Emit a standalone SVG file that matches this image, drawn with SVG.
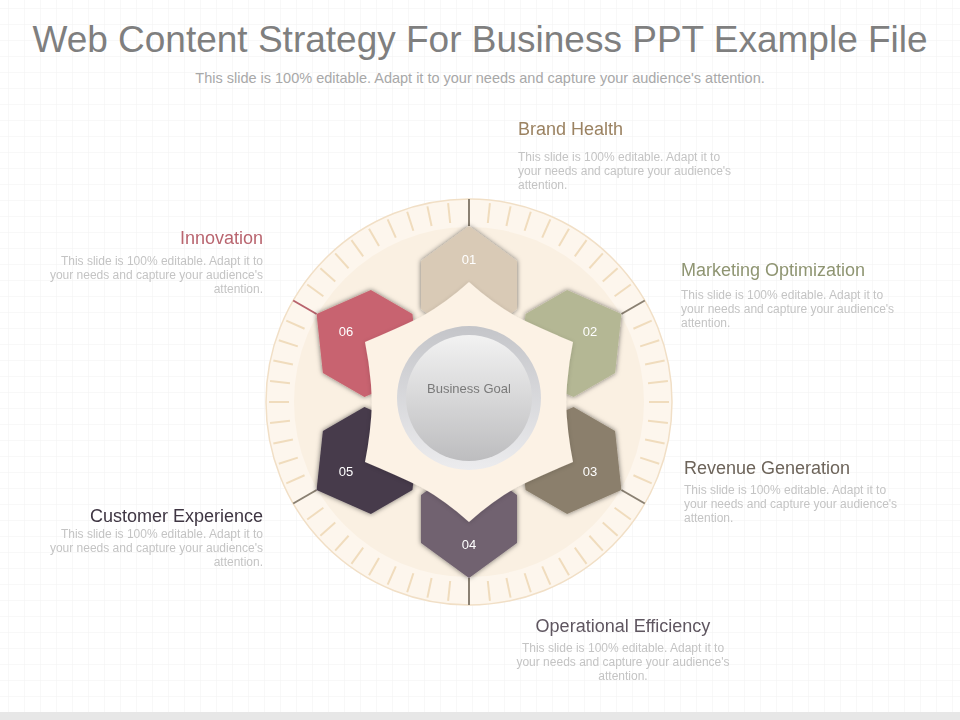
<svg xmlns="http://www.w3.org/2000/svg" width="960" height="720" viewBox="0 0 960 720">
<defs>
<pattern id="grid" width="16" height="16" patternUnits="userSpaceOnUse" x="8" y="8">
<path d="M16 0H0V16" fill="none" stroke="#f1f1f1" stroke-width="1"/>
</pattern>
<filter id="sh" x="-30%" y="-30%" width="160%" height="160%">
<feDropShadow dx="0" dy="0" stdDeviation="2.5" flood-color="#000" flood-opacity="0.55"/>
</filter>
<filter id="sh2" x="-30%" y="-30%" width="160%" height="160%">
<feDropShadow dx="0" dy="1" stdDeviation="2" flood-color="#000" flood-opacity="0.15"/>
</filter>
<linearGradient id="ringG" x1="0" y1="0" x2="0" y2="1">
<stop offset="0" stop-color="#c4c5c9"/>
<stop offset="1" stop-color="#ececee"/>
</linearGradient>
<linearGradient id="diskG" x1="0" y1="0" x2="0" y2="1">
<stop offset="0" stop-color="#f2f2f2"/>
<stop offset="1" stop-color="#bdbdbf"/>
</linearGradient>
<path id="petal" d="M469 226 L517 261 L517 309 L469 344 L421 309 L421 261 Z"/>
<line id="tick" x1="469" y1="202" x2="469" y2="222"/>
<line id="dtick" x1="469" y1="199" x2="469" y2="226"/>
</defs>
<style>
.title{font-family:"Liberation Sans",Arial,sans-serif;font-size:37px;fill:#7f7f7f}
.sub{font-family:"Liberation Sans",Arial,sans-serif;font-size:14.5px;fill:#a8a8a8}
.head{font-family:"Liberation Sans",Arial,sans-serif;font-size:18px}
.body{font-family:"Liberation Sans",Arial,sans-serif;font-size:12px;fill:#c4c4c4}
.num{font-family:"Liberation Sans",Arial,sans-serif;font-size:13px;fill:#ffffff;text-anchor:middle}
.lt{stroke:#f0dcbd;stroke-width:2}
.dk{stroke:#8a8072;stroke-width:2}
</style>
<rect width="960" height="720" fill="#ffffff"/>
<rect width="960" height="712" fill="url(#grid)"/>
<rect x="0" y="712" width="960" height="8" fill="#e7e7e7"/>

<g id="header">
<text class="title" x="480" y="52" text-anchor="middle">Web Content Strategy For Business PPT Example File</text>
<text class="sub" x="480" y="83" text-anchor="middle">This slide is 100% editable. Adapt it to your needs and capture your audience's attention.</text>
</g>

<g id="dial">
<circle cx="469" cy="402" r="203" fill="#fdf6ed" stroke="#f1dfc6" stroke-width="1.5"/>
<circle cx="469" cy="402" r="175" fill="#faf0e2"/>
<g class="lt">
<use href="#tick" transform="rotate(6 469 402)"/><use href="#tick" transform="rotate(12 469 402)"/><use href="#tick" transform="rotate(18 469 402)"/><use href="#tick" transform="rotate(24 469 402)"/><use href="#tick" transform="rotate(30 469 402)"/><use href="#tick" transform="rotate(36 469 402)"/><use href="#tick" transform="rotate(42 469 402)"/><use href="#tick" transform="rotate(48 469 402)"/><use href="#tick" transform="rotate(54 469 402)"/>
<use href="#tick" transform="rotate(66 469 402)"/><use href="#tick" transform="rotate(72 469 402)"/><use href="#tick" transform="rotate(78 469 402)"/><use href="#tick" transform="rotate(84 469 402)"/><use href="#tick" transform="rotate(90 469 402)"/><use href="#tick" transform="rotate(96 469 402)"/><use href="#tick" transform="rotate(102 469 402)"/><use href="#tick" transform="rotate(108 469 402)"/><use href="#tick" transform="rotate(114 469 402)"/>
<use href="#tick" transform="rotate(126 469 402)"/><use href="#tick" transform="rotate(132 469 402)"/><use href="#tick" transform="rotate(138 469 402)"/><use href="#tick" transform="rotate(144 469 402)"/><use href="#tick" transform="rotate(150 469 402)"/><use href="#tick" transform="rotate(156 469 402)"/><use href="#tick" transform="rotate(162 469 402)"/><use href="#tick" transform="rotate(168 469 402)"/><use href="#tick" transform="rotate(174 469 402)"/>
<use href="#tick" transform="rotate(186 469 402)"/><use href="#tick" transform="rotate(192 469 402)"/><use href="#tick" transform="rotate(198 469 402)"/><use href="#tick" transform="rotate(204 469 402)"/><use href="#tick" transform="rotate(210 469 402)"/><use href="#tick" transform="rotate(216 469 402)"/><use href="#tick" transform="rotate(222 469 402)"/><use href="#tick" transform="rotate(228 469 402)"/><use href="#tick" transform="rotate(234 469 402)"/>
<use href="#tick" transform="rotate(246 469 402)"/><use href="#tick" transform="rotate(252 469 402)"/><use href="#tick" transform="rotate(258 469 402)"/><use href="#tick" transform="rotate(264 469 402)"/><use href="#tick" transform="rotate(270 469 402)"/><use href="#tick" transform="rotate(276 469 402)"/><use href="#tick" transform="rotate(282 469 402)"/><use href="#tick" transform="rotate(288 469 402)"/><use href="#tick" transform="rotate(294 469 402)"/>
<use href="#tick" transform="rotate(306 469 402)"/><use href="#tick" transform="rotate(312 469 402)"/><use href="#tick" transform="rotate(318 469 402)"/><use href="#tick" transform="rotate(324 469 402)"/><use href="#tick" transform="rotate(330 469 402)"/><use href="#tick" transform="rotate(336 469 402)"/><use href="#tick" transform="rotate(342 469 402)"/><use href="#tick" transform="rotate(348 469 402)"/><use href="#tick" transform="rotate(354 469 402)"/>
</g>
<g class="dk">
<use href="#dtick"/>
<use href="#dtick" transform="rotate(60 469 402)"/>
<use href="#dtick" transform="rotate(120 469 402)"/>
<use href="#dtick" transform="rotate(180 469 402)"/>
<use href="#dtick" transform="rotate(240 469 402)"/>
<use href="#dtick" transform="rotate(300 469 402)" style="stroke:#b8636d"/>
</g>
</g>

<g id="petals" filter="url(#sh)">
<use id="p01" href="#petal" fill="#d9cab6"/>
<use id="p02" href="#petal" fill="#b4b794" transform="rotate(60 469 402)"/>
<use id="p03" href="#petal" fill="#8b7f6c" transform="rotate(120 469 402)"/>
<use id="p04" href="#petal" fill="#716270" transform="rotate(180 469 402)"/>
<use id="p05" href="#petal" fill="#463a4b" transform="rotate(240 469 402)"/>
<use id="p06" href="#petal" fill="#c8646f" transform="rotate(300 469 402)"/>
</g>

<g id="star" filter="url(#sh2)">
<path d="M469 282 Q491 302 517 317 Q542 329 573 342 Q567 372 566 402 Q567 432 573 462 Q542 475 517 487 Q491 502 469 522 Q447 502 421 487 Q396 475 365 462 Q371 432 372 402 Q371 372 365 342 Q396 329 421 317 Q447 302 469 282 Z" fill="#fcf2e5"/>
</g>

<g id="goal">
<circle cx="469" cy="398" r="72" fill="url(#ringG)"/>
<circle cx="469" cy="398" r="63" fill="url(#diskG)"/>
<text x="469" y="393" text-anchor="middle" font-family="Liberation Sans, Arial, sans-serif" font-size="13" fill="#7a7a7a">Business Goal</text>
</g>

<g id="numbers">
<text class="num" x="469" y="264">01</text>
<text class="num" x="590" y="336">02</text>
<text class="num" x="590" y="476">03</text>
<text class="num" x="469" y="549">04</text>
<text class="num" x="346" y="476">05</text>
<text class="num" x="346" y="336">06</text>
</g>

<g id="brand-health">
<text class="head" x="518" y="135" fill="#9b8261">Brand Health</text>
<text class="body" x="518" y="161">This slide is 100% editable. Adapt it to</text>
<text class="body" x="518" y="175">your needs and capture your audience's</text>
<text class="body" x="518" y="189">attention.</text>
</g>
<g id="marketing-optimization">
<text class="head" x="681" y="276" fill="#8f9572">Marketing Optimization</text>
<text class="body" x="681" y="299">This slide is 100% editable. Adapt it to</text>
<text class="body" x="681" y="313">your needs and capture your audience's</text>
<text class="body" x="681" y="327">attention.</text>
</g>
<g id="revenue-generation">
<text class="head" x="684" y="474" fill="#6d645a">Revenue Generation</text>
<text class="body" x="684" y="494">This slide is 100% editable. Adapt it to</text>
<text class="body" x="684" y="508">your needs and capture your audience's</text>
<text class="body" x="684" y="522">attention.</text>
</g>
<g id="operational-efficiency">
<text class="head" x="623" y="632" fill="#5f5660" text-anchor="middle">Operational Efficiency</text>
<text class="body" x="623" y="652" text-anchor="middle">This slide is 100% editable. Adapt it to</text>
<text class="body" x="623" y="666" text-anchor="middle">your needs and capture your audience's</text>
<text class="body" x="623" y="680" text-anchor="middle">attention.</text>
</g>
<g id="customer-experience">
<text class="head" x="263" y="522" fill="#3f3643" text-anchor="end">Customer Experience</text>
<text class="body" x="263" y="538" text-anchor="end">This slide is 100% editable. Adapt it to</text>
<text class="body" x="263" y="552" text-anchor="end">your needs and capture your audience's</text>
<text class="body" x="263" y="566" text-anchor="end">attention.</text>
</g>
<g id="innovation">
<text class="head" x="263" y="244" fill="#b9656f" text-anchor="end">Innovation</text>
<text class="body" x="263" y="265" text-anchor="end">This slide is 100% editable. Adapt it to</text>
<text class="body" x="263" y="279" text-anchor="end">your needs and capture your audience's</text>
<text class="body" x="263" y="293" text-anchor="end">attention.</text>
</g>
</svg>
